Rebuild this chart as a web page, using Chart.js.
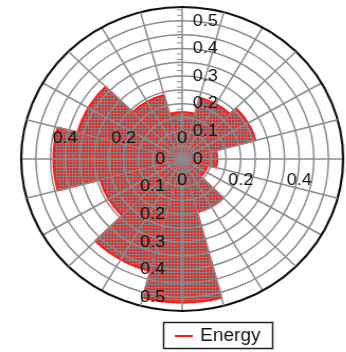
<!DOCTYPE html>
<html>
<head>
<meta charset="utf-8">
<script src="https://cdn.jsdelivr.net/npm/chart.js@4"></script>
<style>
  html, body { margin: 0; background: #fff; }
  #wrap {
    position: absolute; left: 0; top: 0;
    width: 327px; height: 352px;
    transform: scaleX(1.059); transform-origin: 0 0;
  }
</style>
</head>
<body>
<div id="wrap"><canvas id="rose"></canvas></div>
<script>
const directions = ["0", "30", "60", "90", "120", "150", "180", "210", "240", "270", "300", "330"];
const energy = [0.17, 0.23, 0.26, 0.12, 0.09, 0.2, 0.52, 0.42, 0.29, 0.44, 0.37, 0.24];
const northTicks = [0, 0.1, 0.2, 0.3, 0.4, 0.5];
const southTicks = [0, 0.1, 0.2, 0.3, 0.4, 0.5];
const eastTicks = [0, 0.2, 0.4];
const westTicks = [0, 0.2, 0.4];

const roseCanvas = document.getElementById("rose");
const gridGrey = "#8c8c8c";
const labelFont = '17px "Liberation Sans", Arial, sans-serif';

// red / grey checker used to fill the sectors
function checker() {
    const tile = document.createElement("canvas");
    tile.width = 3;
    tile.height = 3;
    const t = tile.getContext("2d");
    t.fillStyle = "#828282";
    t.fillRect(0, 0, 3, 3);
    t.fillStyle = "#f02222";
    t.fillRect(0, 0, 2, 2);
    return roseCanvas.getContext("2d").createPattern(tile, "repeat");
}

// extra spokes through the middle of every sector
const midSpokes = {
    id: "midSpokes",
    afterDatasetsDraw(chart) {
        const r = chart.scales.r;
        const ctx = chart.ctx;
        const len = r.getDistanceFromCenterForValue(r.max);
        const step = 2 * Math.PI / directions.length;
        ctx.save();
        ctx.strokeStyle = gridGrey;
        ctx.lineWidth = 1.5;
        ctx.beginPath();
        for (let i = 0; i < directions.length; i++) {
            const a = r.getIndexAngle(i) + step / 2 - Math.PI / 2;
            ctx.moveTo(r.xCenter, r.yCenter);
            ctx.lineTo(r.xCenter + len * Math.cos(a), r.yCenter + len * Math.sin(a));
        }
        ctx.stroke();
        ctx.restore();
    }
};

// value labels on the four axes, minor ticks and the boxed legend
const axisLabels = {
    id: "axisLabels",
    afterDraw(chart) {
        const r = chart.scales.r;
        const ctx = chart.ctx;
        const x0 = r.xCenter;
        const y0 = r.yCenter;
        const d = v => r.getDistanceFromCenterForValue(v);

        ctx.save();
        ctx.strokeStyle = gridGrey;
        ctx.lineWidth = 1;
        ctx.beginPath();
        for (let v = 0.02; v < r.max; v += 0.02) {
            ctx.moveTo(x0 - 5, y0 - d(v));
            ctx.lineTo(x0, y0 - d(v));
        }
        ctx.stroke();

        ctx.font = labelFont;
        ctx.fillStyle = "#111";
        ctx.textBaseline = "middle";
        ctx.textAlign = "left";
        northTicks.forEach(v => ctx.fillText(String(v), x0 + 10, y0 - d(v)));
        ctx.textAlign = "right";
        southTicks.forEach(v => ctx.fillText(String(v), x0 - 16, y0 + d(v)));
        ctx.textAlign = "center";
        eastTicks.forEach(v => ctx.fillText(String(v), x0 + d(v), y0 + 21));
        westTicks.forEach(v => ctx.fillText(String(v), x0 - d(v), y0 - 21));

        // legend
        const ds = chart.data.datasets[0];
        ctx.strokeStyle = "#222";
        ctx.lineWidth = 1.5;
        ctx.strokeRect(154.5, 322.5, 103, 26);
        ctx.strokeStyle = ds.borderColor;
        ctx.lineWidth = 2;
        ctx.beginPath();
        ctx.moveTo(165, 336);
        ctx.lineTo(182, 336);
        ctx.stroke();
        ctx.font = '18px "Liberation Sans", Arial, sans-serif';
        ctx.textAlign = "left";
        ctx.fillText(ds.label, 189, 336);
        ctx.restore();
    }
};

let roseChart = new Chart(roseCanvas, {
    type: 'polarArea',
    data: {
        labels: directions,
        datasets: [{
            label: 'Energy',
            data: energy,
            backgroundColor: checker(),
            borderColor: '#ff1a1a',
            borderWidth: 2
        }]
    },
    options: {
        responsive: true,
        maintainAspectRatio: false,
        animation: false,
        layout: {
            padding: { top: 7, bottom: 41, left: 20, right: 3 }
        },
        scales: {
            r: {
                min: 0,
                max: 0.55,
                startAngle: -15,
                ticks: { display: false, stepSize: 0.05 },
                pointLabels: { display: false },
                angleLines: { display: true, color: gridGrey, lineWidth: 1.5 },
                grid: {
                    z: 1,
                    circular: true,
                    color: c => c.index === c.scale.ticks.length - 1 ? '#111' : gridGrey,
                    lineWidth: c => c.index === c.scale.ticks.length - 1 ? 2.2 : 1.5
                }
            }
        },
        plugins: {
            legend: { display: false },
            tooltip: { enabled: false }
        }
    },
    plugins: [midSpokes, axisLabels]
});
</script>
</body>
</html>
